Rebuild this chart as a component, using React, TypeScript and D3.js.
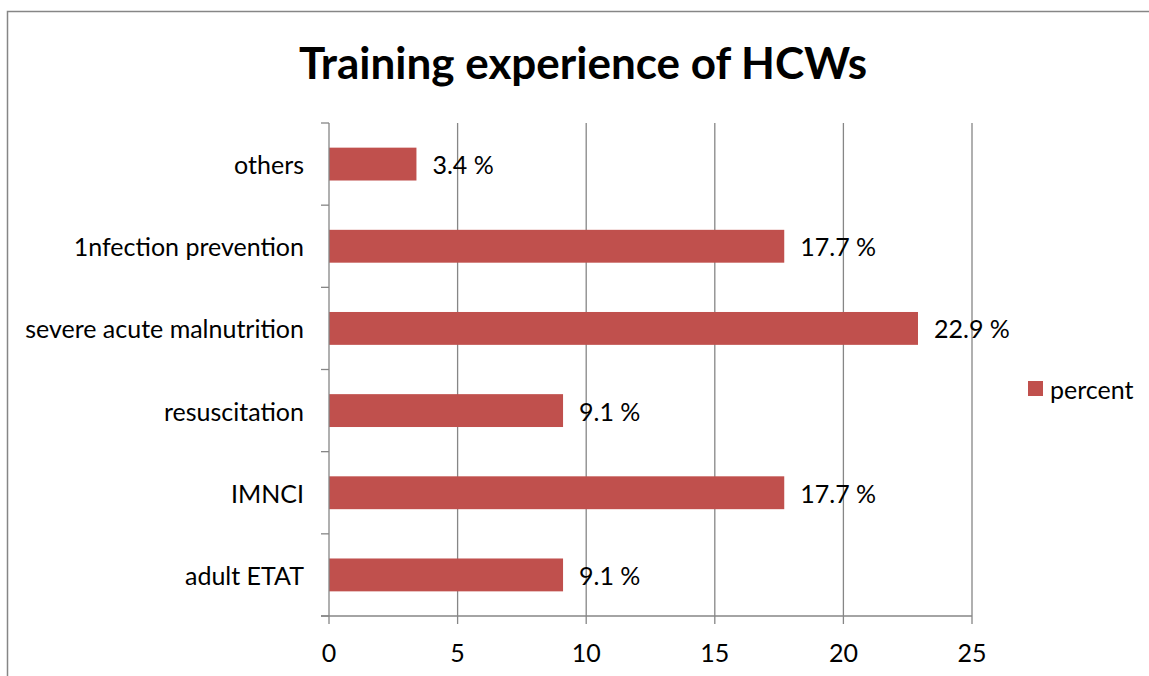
import React from "react";
import * as d3 from "d3";

const categories = ["others", "1nfection prevention", "severe acute malnutrition", "resuscitation", "IMNCI", "adult ETAT"];
const values = [3.4, 17.7, 22.9, 9.1, 17.7, 9.1];
const xTicks = [0, 5, 10, 15, 20, 25];
const seriesName = "percent";
const title = "Training experience of HCWs";

const W = 1149;
const H = 676;
const plot = { left: 329, right: 972, top: 123, bottom: 616 };
const barColor = "#C0504D";
const gridColor = "#868686";
const font = "Lato, 'Open Sans', sans-serif";
const fs = 25;

export default function App() {
  const x = d3.scaleLinear().domain([0, 25]).range([plot.left, plot.right]);
  const y = d3.scaleBand<string>().domain(categories).range([plot.top, plot.bottom]).paddingInner(0.6).paddingOuter(0.3);
  const band = d3.scaleBand<string>().domain(categories).range([plot.top, plot.bottom]);
  const bounds = categories.map((c) => band(c)!).concat([plot.bottom]);

  return (
    <svg width={W} height={H} style={{ position: "absolute", left: 0, top: 0, background: "#fff" }}>
      <rect x={0} y={0} width={W} height={H} fill="#fff" />
      <path d={`M7.5,${H} V11.5 H${W}`} fill="none" stroke={gridColor} strokeWidth={1.5} />
      <text x={583} y={79} textAnchor="middle" fontFamily={font} fontWeight="bold" fontSize={44} fill="#000">
        {title}
      </text>
      {xTicks.slice(1).map((t) => (
        <line key={"g" + t} x1={x(t)} x2={x(t)} y1={plot.top} y2={plot.bottom + 8} stroke={gridColor} strokeWidth={1.3} />
      ))}
      {categories.map((c, i) => (
        <rect key={c} x={x(0)} y={y(c)} width={x(values[i]) - x(0)} height={y.bandwidth()} fill={barColor} />
      ))}
      <line x1={plot.left} x2={plot.left} y1={plot.top} y2={plot.bottom + 8} stroke={gridColor} strokeWidth={1.3} />
      <line x1={plot.left - 8} x2={plot.right} y1={plot.bottom} y2={plot.bottom} stroke={gridColor} strokeWidth={1.3} />
      {bounds.map((b, i) => (
        <line key={"yt" + i} x1={plot.left - 8} x2={plot.left} y1={b} y2={b} stroke={gridColor} strokeWidth={1.3} />
      ))}
      {xTicks.map((t) => (
        <text key={"xl" + t} x={x(t)} y={652} textAnchor="middle" dominantBaseline="central" fontFamily={font} fontSize={fs} fill="#000">
          {t}
        </text>
      ))}
      {categories.map((c) => (
        <text key={"cl" + c} x={304} y={band(c)! + band.bandwidth() / 2} textAnchor="end" dominantBaseline="central" fontFamily={font} fontSize={fs} fill="#000">
          {c}
        </text>
      ))}
      {categories.map((c, i) => (
        <text key={"dl" + c} x={x(values[i]) + 16} y={y(c)! + y.bandwidth() / 2} dominantBaseline="central" fontFamily={font} fontSize={fs} fill="#000">
          {values[i].toFixed(1) + " %"}
        </text>
      ))}
      <rect x={1028} y={381} width={15} height={15} fill={barColor} />
      <text x={1050} y={388.5} dominantBaseline="central" fontFamily={font} fontSize={fs} fill="#000">
        {seriesName}
      </text>
    </svg>
  );
}
